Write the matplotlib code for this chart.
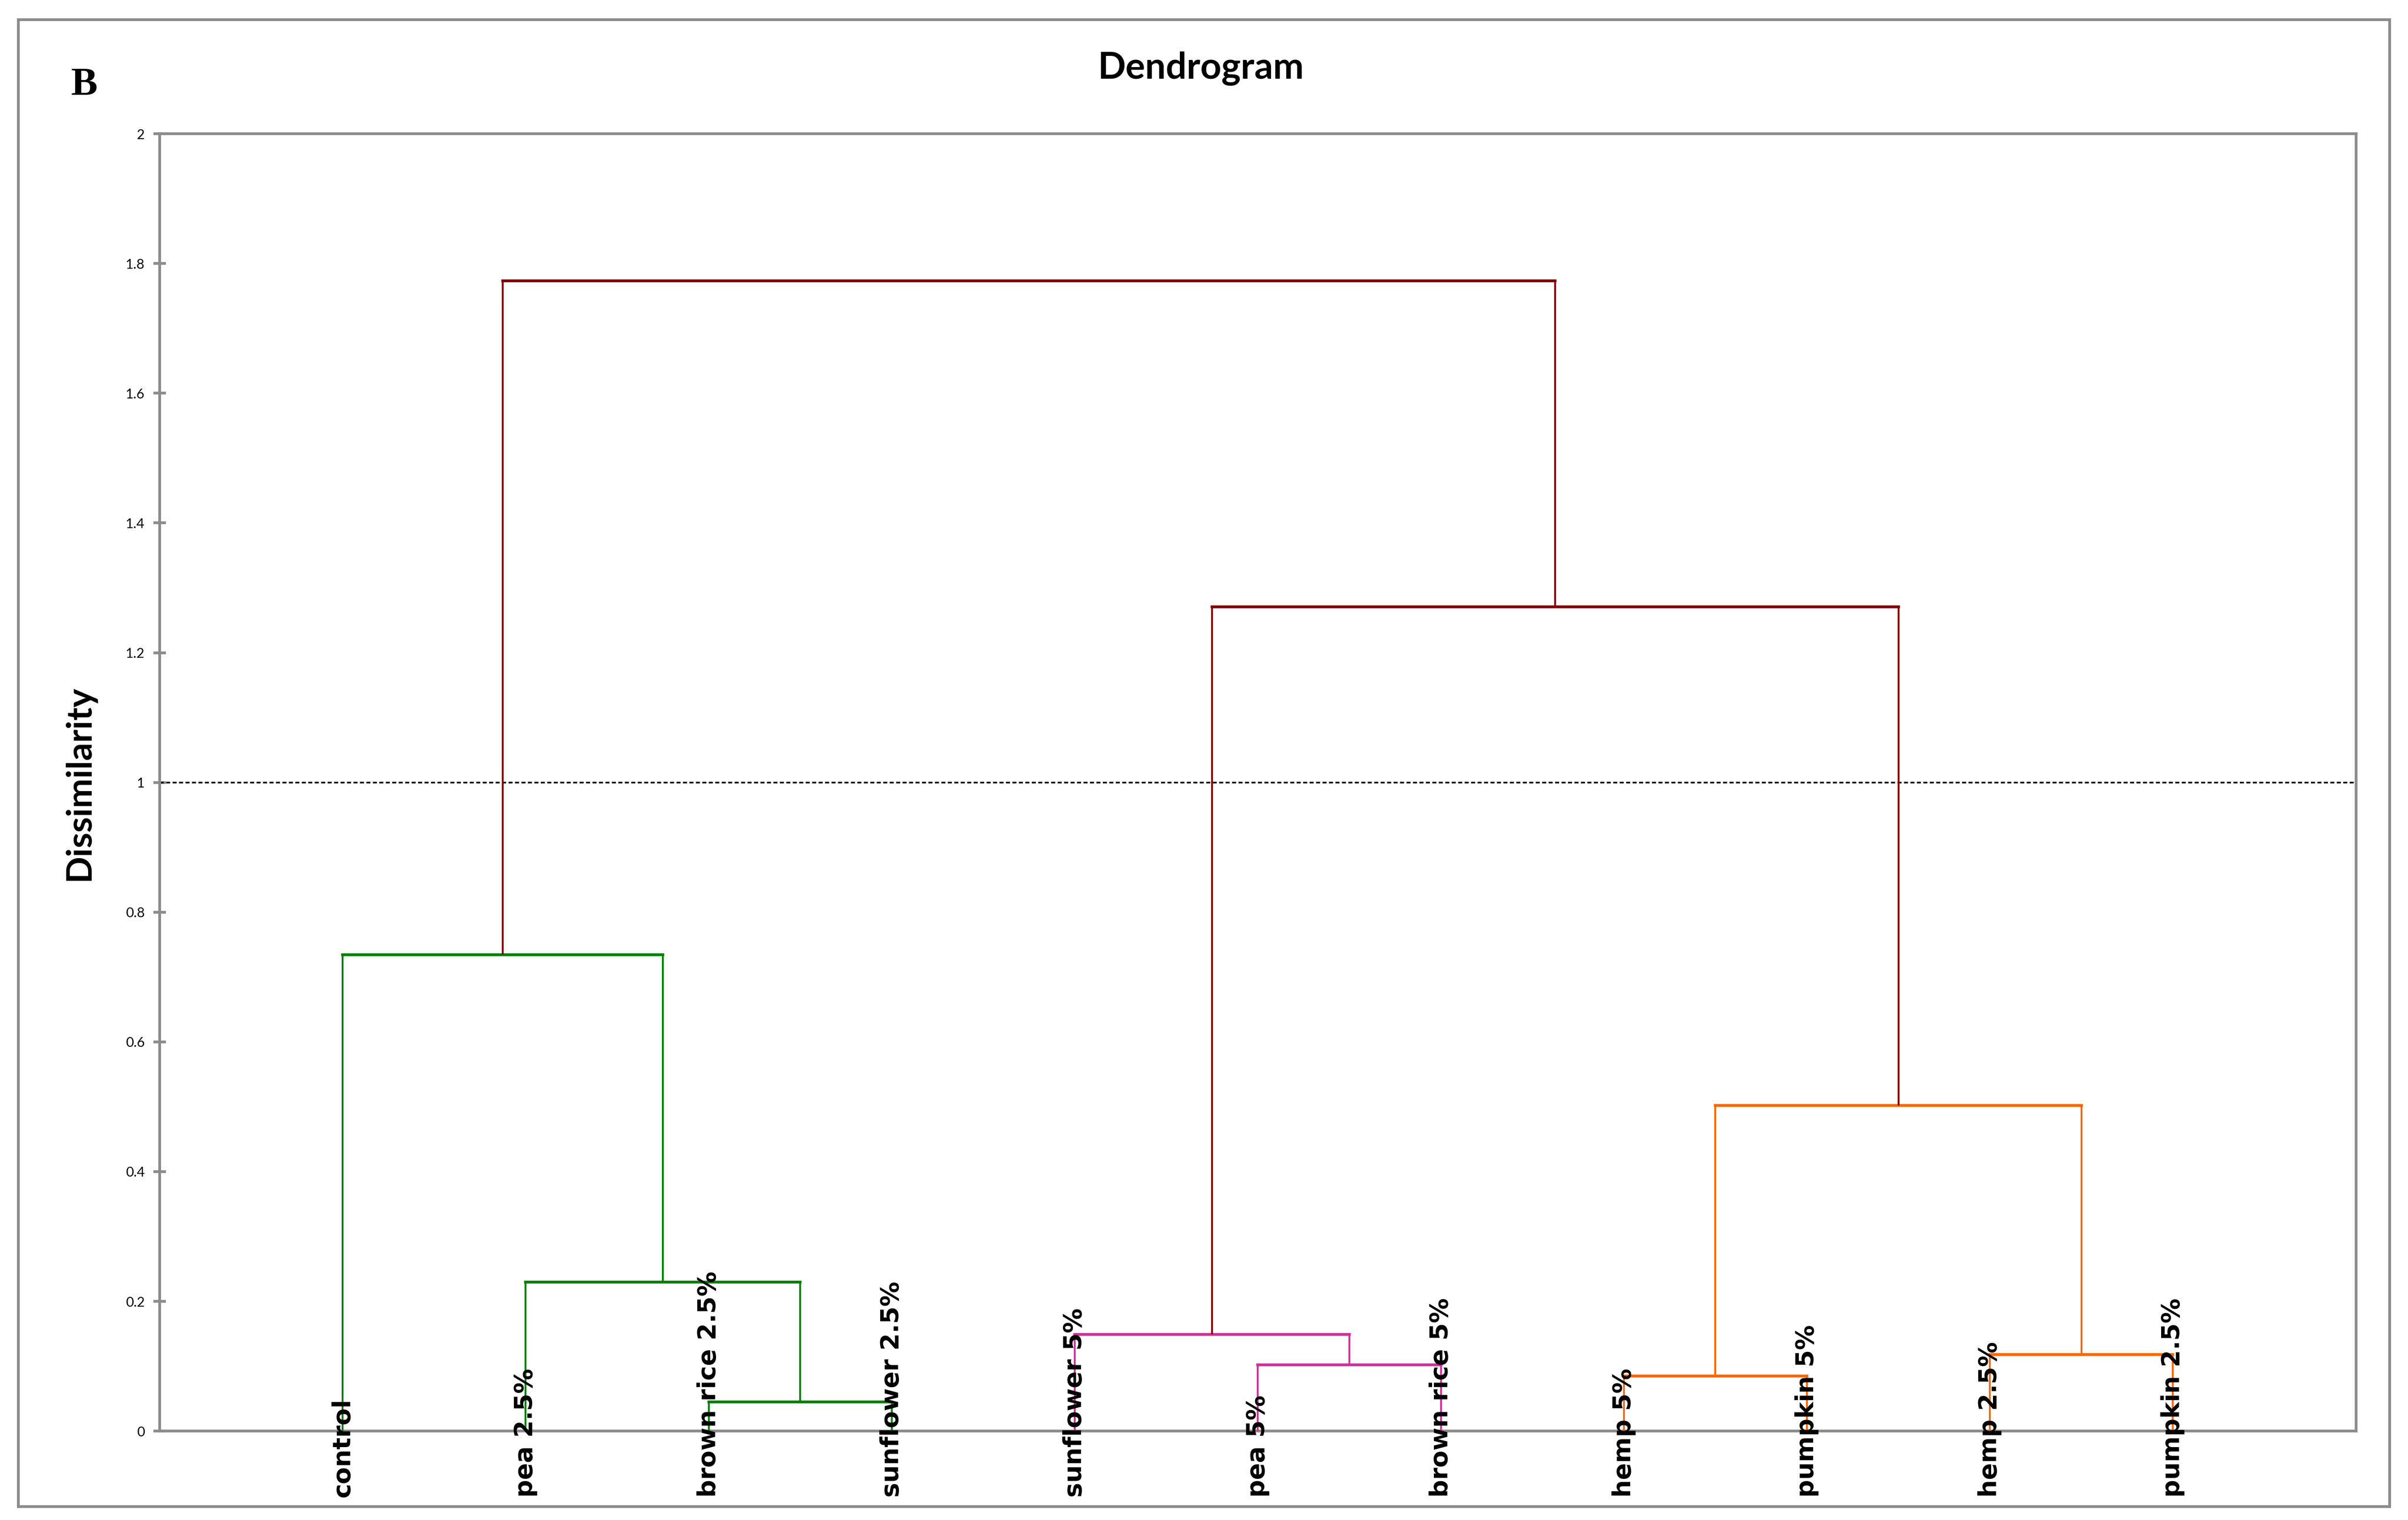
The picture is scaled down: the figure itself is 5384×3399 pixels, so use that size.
import matplotlib
matplotlib.use("Agg")
import matplotlib.pyplot as plt
from matplotlib.patches import Rectangle
from matplotlib.transforms import blended_transform_factory

# ---------------- data ----------------
leaf_labels = ["control", "pea 2.5%", "brown rice 2.5%", "sunflower 2.5%",
               "sunflower 5%", "pea 5%", "brown rice 5%", "hemp 5%",
               "pumpkin 5%", "hemp 2.5%", "pumpkin 2.5%"]
# merges: node ids < 11 are leaves, 11+k is the k-th merge
merge_left = [2, 1, 0, 5, 4, 7, 9, 16, 15, 13]
merge_right = [3, 11, 12, 6, 14, 8, 10, 17, 18, 19]
merge_height = [0.045, 0.230, 0.734, 0.102, 0.149, 0.085, 0.118, 0.502, 1.271, 1.773]
merge_group = ["A", "A", "A", "B", "B", "C", "C", "C", "top", "top"]
y_ticks = [0, 0.2, 0.4, 0.6, 0.8, 1.0, 1.2, 1.4, 1.6, 1.8, 2.0]
y_tick_labels = ["0", "0.2", "0.4", "0.6", "0.8", "1", "1.2", "1.4", "1.6", "1.8", "2"]
cut_level = 1.0

group_colors = {"A": "#008000", "B": "#CC3399", "C": "#FF6600", "top": "#800000"}

W, H, DPI = 5384, 3399, 100
fig = plt.figure(figsize=(W / DPI, H / DPI), dpi=DPI)
fig.patch.set_facecolor("white")

FONT = ["Lato", "DejaVu Sans"]

# outer frame
fig.patches.append(Rectangle((0.0076, 0.0088), 0.9848, 0.9782, transform=fig.transFigure,
                             fill=False, edgecolor="#8c8c8c", linewidth=4.5, zorder=0))

ax = fig.add_axes([0.0663, 0.0585, 0.9784 - 0.0663, 0.912 - 0.0585])
n = len(leaf_labels)
ax.set_xlim(0, n + 1)
ax.set_ylim(0, 2)

# node positions
pos_x = {i: i + 1 for i in range(n)}
pos_y = {i: 0.0 for i in range(n)}
for k, (l, r, h, g) in enumerate(zip(merge_left, merge_right, merge_height, merge_group)):
    c = group_colors[g]
    xl, xr = pos_x[l], pos_x[r]
    ax.plot([xl, xl], [pos_y[l], h], color=c, lw=3.0, solid_capstyle="butt", zorder=3)
    ax.plot([xr, xr], [pos_y[r], h], color=c, lw=3.0, solid_capstyle="butt", zorder=3)
    ax.plot([xl, xr], [h, h], color=c, lw=4.6, solid_capstyle="projecting", zorder=3)
    node = n + k
    pos_x[node] = (xl + xr) / 2
    pos_y[node] = h

ax.axhline(cut_level, color="black", lw=2.6, linestyle=(0, (2.5, 1.5)), zorder=2)

# axes styling
for s in ax.spines.values():
    s.set_color("#8c8c8c")
    s.set_linewidth(4.5)
ax.set_xticks([])
ax.set_yticks(y_ticks)
ax.set_yticklabels(y_tick_labels, fontsize=22, family=FONT)
ax.tick_params(axis="y", direction="inout", length=20, width=4.5, color="#8c8c8c", pad=14)

# leaf labels
trans = blended_transform_factory(ax.transData, ax.transAxes)
for i, lab in enumerate(leaf_labels):
    ax.text(pos_x[i], -0.051, lab, transform=trans, rotation=90, ha="center", va="bottom",
            fontsize=40, fontweight="bold", family=["DejaVu Sans"], zorder=4)

fig.text(0.033, 0.485, "Dissimilarity", rotation=90, ha="center", va="center",
         fontsize=57, fontweight="bold", family=FONT)
fig.text(0.4987, 0.955, "Dendrogram", ha="center", va="center",
         fontsize=59, fontweight="bold", family=FONT)
fig.text(0.035, 0.944, "B", ha="center", va="center", fontsize=64, fontweight="bold",
         family=["Liberation Serif", "DejaVu Serif"])

fig.savefig("out.png", dpi=DPI, facecolor="white")
